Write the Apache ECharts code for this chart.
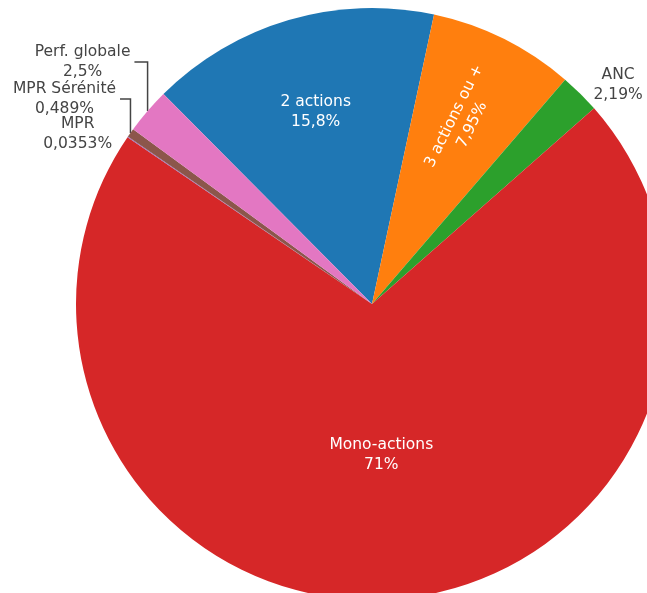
<!DOCTYPE html>
<html>
<head>
<meta charset="utf-8">
<script src="https://cdn.jsdelivr.net/npm/echarts@6/dist/echarts.min.js"></script>
<style>
html,body{margin:0;padding:0;background:#fff;}
#chart{width:647px;height:593px;}
</style>
</head>
<body>
<div id="chart"></div>
<script>
// ---- data ----
const categories = ['2 actions', '3 actions ou +', 'ANC', 'Mono-actions', 'MPR', 'MPR Sérénité', 'Perf. globale'];
const values = [15.8, 7.95, 2.19, 71, 0.0353, 0.489, 2.5];
const colors = ['#1f77b4', '#ff7f0e', '#2ca02c', '#d62728', '#9467bd', '#8c564b', '#e377c2'];

// ---- layout / style ----
const cx = 372, cy = 304, R = 296;
const startAngle = 134.8;
const FONT = 'DejaVu Sans';
const outsideLabels = { 'ANC': [38, -9, false], 'Perf. globale': [-65, -49, true], 'MPR Sérénité': [-66, -34, true], 'MPR': [-50, -3, false] };
const insideLabelRadius = { '2 actions': 200, '3 actions ou +': 205 };
const radialLabels = ['3 actions ou +'];

const total = values.reduce((s, v) => s + v, 0);
const midAngles = [];
{
  let cum = 0;
  values.forEach(v => {
    midAngles.push((startAngle - 360 * (cum + v / 2) / total) * Math.PI / 180);
    cum += v;
  });
}
function fmtPct(v) {
  const p = parseFloat((v / total * 100).toPrecision(3));
  return String(p).replace('.', ',') + '%';
}

const data = categories.map((name, i) => {
  const item = { name: name, value: values[i], itemStyle: { color: colors[i] } };
  if (outsideLabels[name]) {
    item.label = { position: 'outside', color: '#444' };
    item.labelLine = { show: outsideLabels[name][2] };
  }
  if (radialLabels.includes(name)) {
    item.label = { rotate: 'radial' };
  }
  return item;
});

const chart = echarts.init(document.getElementById('chart'), null, { renderer: 'canvas' });
chart.setOption({
  animation: false,
  backgroundColor: '#fff',
  series: [{
    type: 'pie',
    center: [cx, cy],
    radius: R,
    startAngle: startAngle,
    clockwise: true,
    avoidLabelOverlap: false,
    itemStyle: { borderWidth: 0 },
    emphasis: { disabled: true },
    label: {
      show: true,
      position: 'inside',
      color: '#fff',
      fontFamily: FONT,
      fontSize: 15.5,
      lineHeight: 20,
      formatter: p => p.name + '\n' + fmtPct(p.value)
    },
    labelLine: {
      show: false,
      lineStyle: { color: '#444', width: 1.5 }
    },
    labelLayout: function (p) {
      const i = p.dataIndex;
      const name = categories[i];
      const a = midAngles[i];
      if (insideLabelRadius[name]) {
        const r = insideLabelRadius[name];
        return { x: cx + r * Math.cos(a), y: cy - r * Math.sin(a) };
      }
      if (outsideLabels[name]) {
        const o = outsideLabels[name];
        const ex = cx + R * Math.cos(a), ey = cy - R * Math.sin(a);
        const lx = ex + o[0], ly = ey + o[1];
        const res = { x: lx, y: ly, align: 'center', verticalAlign: 'middle' };
        if (o[2]) {
          const w = p.labelRect ? p.labelRect.width : 100;
          res.labelLinePoints = [[ex, ey], [ex, ly], [lx + w / 2 + 4, ly]];
        }
        return res;
      }
      return {};
    },
    data: data
  }]
});
</script>
</body>
</html>
